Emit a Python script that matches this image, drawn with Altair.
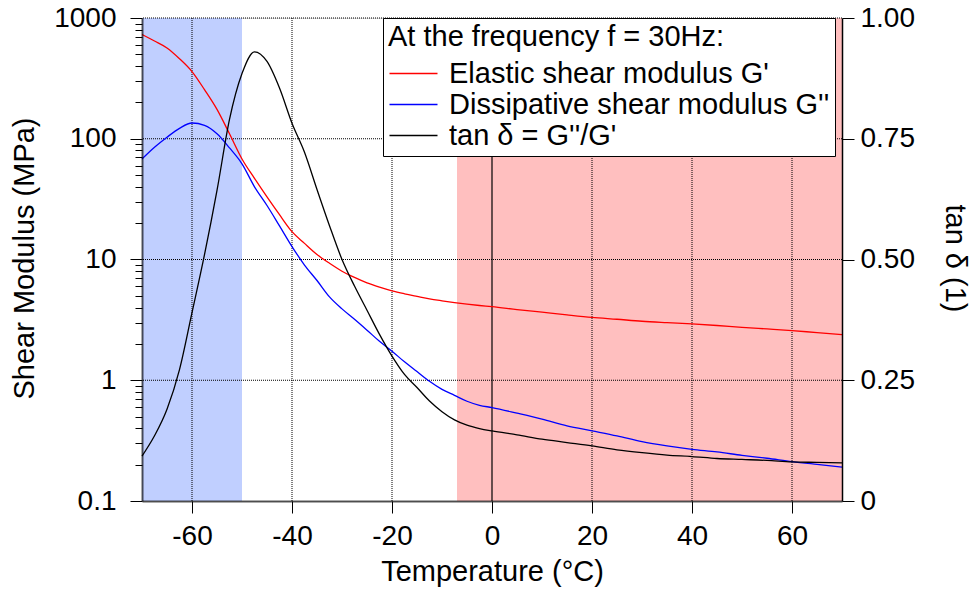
import altair as alt
import pandas as pd

# ---------------- data ----------------
temperature = [-70, -67.5, -65, -62.5, -60, -57.5, -55, -52.5, -50, -47.5, -45, -42.5,
               -40, -37.5, -35, -32.5, -30, -27.5, -25, -22.5, -20, -17.5, -15, -12.5,
               -10, -7.5, -5, -2.5, 0, 5, 10, 15, 20, 25, 30, 35, 40, 45, 50, 55, 60, 65, 70]
g_elastic = [730, 645, 565, 460, 360, 255, 175, 110, 68, 47, 33, 23.5,
             17.0, 13.6, 11.0, 9.3, 8.0, 7.1, 6.4, 5.9, 5.5, 5.2, 4.95, 4.72,
             4.55, 4.4, 4.27, 4.16, 4.07, 3.85, 3.66, 3.48, 3.32, 3.2, 3.08, 3.0, 2.93, 2.84, 2.74, 2.66, 2.58, 2.48, 2.39]
g_dissip = [68, 85, 103, 122, 135, 129, 110, 84, 62, 40, 28, 19.0,
            12.8, 9.0, 6.7, 4.9, 3.9, 3.2, 2.6, 2.1, 1.74, 1.42, 1.18, 0.98,
            0.84, 0.75, 0.67, 0.62, 0.594, 0.534, 0.477, 0.419, 0.381, 0.346, 0.31, 0.286, 0.268, 0.255, 0.239, 0.226, 0.212, 0.201, 0.191]
tan_delta = [0.093, 0.135, 0.19, 0.272, 0.39, 0.51, 0.643, 0.79, 0.885, 0.93, 0.91, 0.855,
             0.782, 0.722, 0.645, 0.57, 0.50, 0.445, 0.395, 0.345, 0.30, 0.262, 0.235, 0.207,
             0.185, 0.168, 0.157, 0.15, 0.145, 0.137, 0.128, 0.121, 0.114, 0.106, 0.100, 0.095, 0.092, 0.088, 0.086, 0.084, 0.081, 0.080, 0.079]

series_names = ["Elastic shear modulus G'", "Dissipative shear modulus G''", "tan δ = G''/G'"]
legend_title = "At the frequency f = 30Hz:"

cold_band = [-70, -50]
warm_band = [-7, 70]

x_ticks = [-60, -40, -20, 0, 20, 40, 60]
x_grid = [-60, -40, -20, 20, 40, 60]
x_zero = [0]
y_major = [0.1, 1, 10, 100, 1000]
y_grid = [1, 10, 100, 1000]
y_minor = [m * d for d in [0.1, 1, 10, 100] for m in range(2, 10)]
tan_ticks = [0, 0.25, 0.5, 0.75, 1]

FONT = "Liberation Sans"

# ---------------- tables ----------------
mod_df = pd.DataFrame({
    "T": temperature * 2,
    "value": g_elastic + g_dissip,
    "series": [series_names[0]] * len(temperature) + [series_names[1]] * len(temperature),
})
tan_df = pd.DataFrame({"T": temperature, "tan": tan_delta, "series": [series_names[2]] * len(temperature)})

# ---------------- scales & axes ----------------
xscale = alt.Scale(domain=[-70, 70], nice=False, zero=False)
yscale = alt.Scale(type="log", domain=[0.1, 1000], nice=False)
tscale = alt.Scale(domain=[0, 1], nice=False, zero=False)
cscale = alt.Scale(domain=series_names, range=["#ff0000", "#0000ff", "#000000"])

is_major = "abs(log(datum.value)/LN10 - round(log(datum.value)/LN10)) < 0.001"

x_axis = alt.Axis(values=x_ticks, title="Temperature (°C)", grid=False, tickSize=12,
                  labelExpr="datum.value < 0 ? '-' + abs(datum.value) : '' + datum.value",
                  labelPadding=9, labelFontSize=28, titleFontSize=29, titleFontWeight="normal",
                  titleX=350, titleY=79, titleBaseline="alphabetic", domainColor="black",
                  domainOpacity=0.65, domainWidth=2, tickColor="black", labelColor="black",
                  titleColor="black", labelFont=FONT, titleFont=FONT, zindex=1, labelFlush=False)

y_axis = alt.Axis(values=y_major + y_minor, orient="left", title="Shear Modulus (MPa)", grid=False,
                  labelExpr="(" + is_major + ") ? (datum.value < 1 ? format(datum.value, '.1f') : format(datum.value, 'd')) : ''",
                  tickSize={"condition": {"test": is_major, "value": 12}, "value": 7},
                  labelPadding=14, labelFontSize=28, titleFontSize=29, titleFontWeight="normal",
                  titleX=-118, titleY=240, titleBaseline="middle", titleAngle=270,
                  domainColor="black", domainOpacity=0.65, domainWidth=2, tickColor="black",
                  labelColor="black", titleColor="black", labelFont=FONT, titleFont=FONT, zindex=1)

t_axis = alt.Axis(values=tan_ticks, orient="right", title="tan δ (1)", grid=False,
                  labelExpr="datum.value == 0 ? '0' : format(datum.value, '.2f')",
                  tickSize=12, labelPadding=6, labelFontSize=28, titleFontSize=29,
                  titleFontWeight="normal", titleX=112, titleY=240, titleBaseline="middle",
                  titleAngle=90, domainColor="black", domainWidth=1.5, tickColor="black",
                  labelColor="black", titleColor="black", labelFont=FONT, titleFont=FONT, zindex=1)

legend = alt.Legend(title=legend_title, orient="none", legendX=241, legendY=0, direction="vertical",
                    fillColor="white", strokeColor="black", padding=5,
                    titleFontSize=29, titleFont=FONT, titleFontWeight="normal", titleColor="black",
                    titlePadding=7, titleLimit=1000,
                    labelFontSize=29, labelFont=FONT, labelColor="black", labelLimit=1000,
                    labelOffset=21, symbolType="M-4,0H4", symbolSize=144, symbolStrokeWidth=1.3,
                    symbolOffset=11, rowPadding=1)

X = lambda f: alt.X(f, scale=xscale, axis=x_axis)

# ---------------- layers ----------------
cold = alt.Chart(pd.DataFrame({"a": [cold_band[0]], "b": [cold_band[1]]})).mark_rect(
    color="#c0cfff").encode(x=X("a:Q"), x2="b:Q", y=alt.value(0), y2=alt.value("height"))
warm = alt.Chart(pd.DataFrame({"a": [warm_band[0]], "b": [warm_band[1]]})).mark_rect(
    color="#ffbfbf").encode(x=X("a:Q"), x2="b:Q", y=alt.value(0), y2=alt.value("height"))

grid_v = alt.Chart(pd.DataFrame({"gx": x_grid})).mark_rule(
    color="black", strokeWidth=1, strokeDash=[1, 1]).encode(x=X("gx:Q"))
grid_h = alt.Chart(pd.DataFrame({"gy": y_grid})).mark_rule(
    color="black", strokeWidth=1, strokeDash=[1, 1]).encode(
    y=alt.Y("gy:Q", scale=yscale, axis=y_axis))
zero = alt.Chart(pd.DataFrame({"gx": x_zero})).mark_rule(
    color="black", strokeWidth=1.2).encode(x=X("gx:Q"))

moduli = alt.Chart(mod_df).mark_line(strokeWidth=1.3, interpolate="monotone").encode(
    x=X("T:Q"),
    y=alt.Y("value:Q", scale=yscale, axis=y_axis),
    color=alt.Color("series:N", scale=cscale, legend=legend, sort=series_names),
    detail="series:N",
)

tan = alt.Chart(tan_df).mark_line(strokeWidth=1.3, interpolate="monotone").encode(
    x=X("T:Q"),
    y=alt.Y("tan:Q", scale=tscale, axis=t_axis),
    color=alt.Color("series:N", scale=cscale, legend=legend, sort=series_names),
)

left = alt.layer(cold, warm, grid_v, grid_h, zero, moduli)
chart = alt.layer(left, tan).resolve_scale(y="independent").properties(
    width=700, height=483,
    autosize=alt.AutoSizeParams(type="none"),
    padding={"left": 142, "top": 18, "right": 131, "bottom": 90},
).configure_view(stroke=None).configure(font=FONT, background="white")

chart.save("out.html", embed_options={"renderer": "svg", "actions": False})
